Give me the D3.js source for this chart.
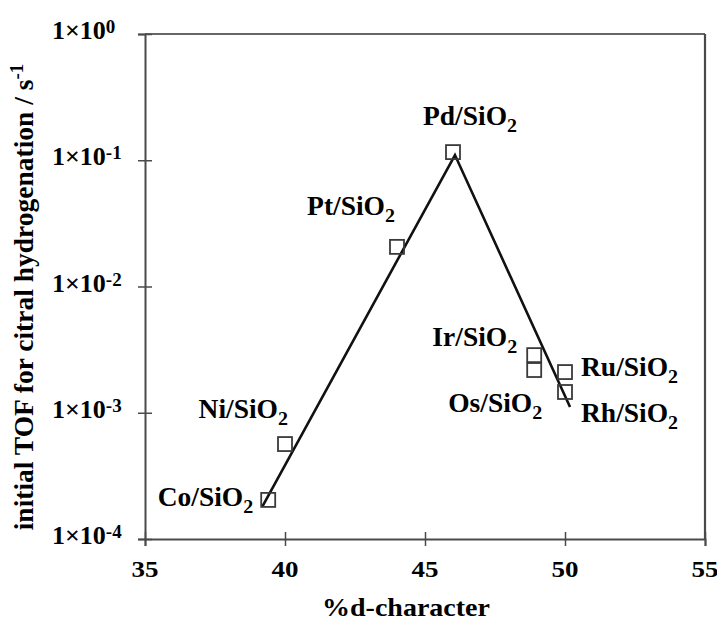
<!DOCTYPE html>
<html>
<head>
<meta charset="utf-8">
<script src="https://cdn.jsdelivr.net/npm/d3@7"></script>
<style>
  html, body { margin: 0; padding: 0; background: #fff; }
  svg text { font-family: "Liberation Serif", "Times New Roman", serif; font-weight: bold; fill: #000; }
</style>
</head>
<body>
<svg id="chart" width="717" height="623"></svg>
<script>
// ---------------- data ----------------
const catalysts = ["Co", "Ni", "Pt", "Pd", "Ir", "Os", "Ru", "Rh"];
const dCharacter = [39.4, 40.0, 44.0, 46.0, 48.9, 48.9, 50.0, 50.0];
const tof = [2.04e-4, 5.65e-4, 2.06e-2, 0.116, 2.86e-3, 2.18e-3, 2.1e-3, 1.46e-3];
const fitX = [39.2, 46.07, 50.18];
const fitY = [1.82e-4, 0.11, 1.11e-3];
const xTicks = [35, 40, 45, 50, 55];
const yTicks = [1, 0.1, 0.01, 0.001, 0.0001];
const yTickExponents = ["0", "-1", "-2", "-3", "-4"];

// ---------------- layout ----------------
const W = 717, H = 623;
const margin = { top: 34, right: 12, bottom: 84, left: 145 };
const iw = W - margin.left - margin.right;
const ih = H - margin.top - margin.bottom;
// label placement relative to the point (pixels)
const labelLayout = {
  Co: { dx: -15, dy: 6, anchor: "end" },
  Ni: { dx: 3, dy: -26, anchor: "end" },
  Pt: { dx: -2, dy: -32, anchor: "end" },
  Pd: { dx: 17, dy: -27, anchor: "middle" },
  Ir: { dx: -17, dy: -9, anchor: "end" },
  Os: { dx: 8, dy: 42, anchor: "end" },
  Ru: { dx: 16, dy: 4, anchor: "start" },
  Rh: { dx: 16, dy: 30, anchor: "start" }
};
const axisColor = "#4a4a4a";

const svg = d3.select("#chart");
const g = svg.append("g").attr("transform", `translate(${margin.left},${margin.top})`);

const x = d3.scaleLinear().domain([35, 55]).range([0, iw]);
const y = d3.scaleLog().domain([1e-4, 1]).range([ih, 0]);

// frame (top & right)
g.append("line").attr("x1", 0).attr("x2", iw).attr("y1", 0).attr("y2", 0)
  .attr("stroke", "#666").attr("stroke-width", 2);
g.append("line").attr("x1", iw).attr("x2", iw).attr("y1", 0).attr("y2", ih)
  .attr("stroke", axisColor).attr("stroke-width", 2.2);

// bottom axis
const xAxis = g.append("g").attr("transform", `translate(0,${ih})`)
  .call(d3.axisBottom(x).tickValues(xTicks).tickSize(7).tickFormat(""));
xAxis.select(".domain").attr("stroke", axisColor).attr("stroke-width", 2);
xAxis.selectAll(".tick line").attr("y1", -7).attr("y2", 7).attr("stroke", axisColor).attr("stroke-width", 1.5);

// left axis
const yAxis = g.append("g")
  .call(d3.axisLeft(y).tickValues(yTicks).tickSize(7).tickFormat(""));
yAxis.select(".domain").attr("stroke", axisColor).attr("stroke-width", 2);
yAxis.selectAll(".tick line").attr("x1", -7).attr("x2", 7).attr("stroke", axisColor).attr("stroke-width", 1.5);

// x tick labels (slightly condensed vertically)
xTicks.forEach(v => {
  g.append("g").attr("transform", `translate(${x(v)},${ih + 38}) scale(1,0.85)`)
    .append("text").attr("text-anchor", "middle").attr("font-size", 27).text(v);
});

// y tick labels: 1×10^n
yTicks.forEach((v, i) => {
  const t = g.append("text")
    .attr("x", -93).attr("y", y(v) + 5)
    .attr("text-anchor", "start").attr("font-size", 26);
  t.append("tspan").text("1×10");
  t.append("tspan").attr("font-size", 19).attr("dy", -6).text(yTickExponents[i]);
});

// axis titles
g.append("g").attr("transform", `translate(${406 - margin.left},${ih + 77}) scale(1,0.87)`)
  .append("text").attr("text-anchor", "middle").attr("font-size", 28).text("%d-character");

const yt = svg.append("text")
  .attr("transform", `translate(33,${297}) rotate(-90)`)
  .attr("text-anchor", "middle").attr("font-size", 27.5);
yt.append("tspan").text("initial TOF for citral hydrogenation / s");
yt.append("tspan").attr("font-size", 19).attr("dy", -10).text("-1");

// fit line
const pts = fitX.map((v, i) => [v, fitY[i]]);
g.append("path")
  .attr("d", d3.line().x(d => x(d[0])).y(d => y(d[1]))(pts))
  .attr("fill", "none").attr("stroke", "#111").attr("stroke-width", 2.6);

// squares
const s = 14;
g.selectAll("rect.pt").data(catalysts).enter().append("rect")
  .attr("class", "pt")
  .attr("x", (d, i) => x(dCharacter[i]) - s / 2)
  .attr("y", (d, i) => y(tof[i]) - s / 2)
  .attr("width", s).attr("height", s)
  .attr("fill", "none").attr("stroke", "#3a3a3a").attr("stroke-width", 1.8);

// labels
catalysts.forEach((c, i) => {
  const L = labelLayout[c];
  const px = x(dCharacter[i]) + L.dx, py = y(tof[i]) + L.dy;
  const t = g.append("g").attr("transform", `translate(${px},${py}) scale(1,0.97)`)
    .append("text").attr("text-anchor", L.anchor).attr("font-size", 27.5);
  t.append("tspan").text(c + "/SiO");
  t.append("tspan").attr("font-size", 20).attr("dy", 7).text("2");
});
</script>
</body>
</html>
